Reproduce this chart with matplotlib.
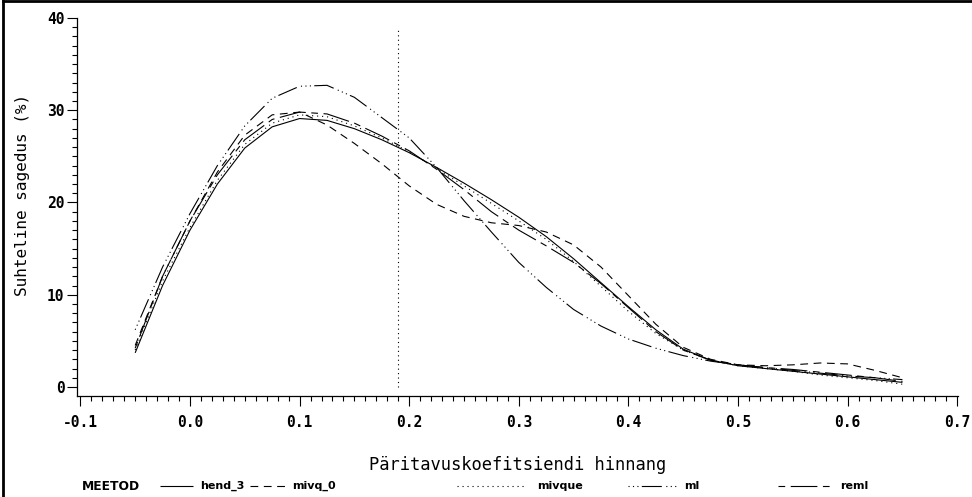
import numpy as np
import matplotlib
matplotlib.use("Agg")
import matplotlib.pyplot as plt
from matplotlib.lines import Line2D
from matplotlib.ticker import MultipleLocator

# estimates
x = [-0.05, -0.025, 0.0, 0.025, 0.05, 0.075, 0.1, 0.125, 0.15, 0.175,
     0.2, 0.225, 0.25, 0.275, 0.3, 0.325, 0.35, 0.375, 0.4, 0.425,
     0.45, 0.475, 0.5, 0.525, 0.55, 0.575, 0.6, 0.625, 0.65]

hend_3 = [3.7, 11.0, 17.0, 22.0, 25.9, 28.2, 29.1, 28.9, 28.0, 26.8,
          25.4, 23.8, 22.1, 20.3, 18.4, 16.3, 13.9, 11.3, 8.7, 6.2,
          4.1, 2.9, 2.3, 2.0, 1.7, 1.4, 1.1, 0.8, 0.5]
mivq_0 = [4.5, 12.0, 18.0, 23.3, 27.3, 29.5, 29.8, 28.4, 26.4, 24.2,
          21.8, 19.8, 18.5, 17.8, 17.5, 16.8, 15.4, 13.0, 9.9, 6.8,
          4.3, 3.0, 2.4, 2.3, 2.4, 2.6, 2.5, 1.8, 1.0]
mivque = [4.0, 11.5, 17.3, 22.4, 26.3, 28.6, 29.5, 29.3, 28.3, 27.0,
          25.5, 23.7, 21.8, 19.9, 18.0, 16.0, 13.6, 10.9, 8.2, 5.8,
          4.0, 2.9, 2.3, 2.0, 1.7, 1.3, 1.0, 0.7, 0.3]
ml = [6.2, 13.0, 18.8, 24.0, 28.3, 31.3, 32.6, 32.7, 31.4, 29.2,
      27.0, 23.8, 20.2, 16.8, 13.5, 10.8, 8.4, 6.6, 5.2, 4.2,
      3.4, 2.8, 2.4, 2.1, 1.8, 1.5, 1.2, 1.0, 0.8]
reml = [4.2, 12.0, 18.0, 23.0, 26.8, 29.0, 29.8, 29.6, 28.6, 27.2,
        25.6, 23.6, 21.4, 19.0, 17.0, 15.3, 13.5, 11.2, 8.6, 6.0,
        4.0, 2.9, 2.4, 2.1, 1.9, 1.6, 1.3, 1.0, 0.6]

labels = ["hend_3", "mivq_0", "mivque", "ml", "reml"]
ref_x = 0.19
ref_top = 38.7

x_ticks = [-0.1, 0.0, 0.1, 0.2, 0.3, 0.4, 0.5, 0.6, 0.7]
y_ticks = [0, 10, 20, 30, 40]

mono = "DejaVu Sans Mono"
lw = 0.8
styles = [
    (0, ()),
    (0, (7.0, 5.0)),
    (0, (1.0, 3.5)),
    (0, (1.0, 3.0, 1.0, 3.0, 1.0, 3.0, 18.0, 4.0)),
    (0, (6.0, 5.0, 24.0, 5.0)),
]

fig = plt.figure(figsize=(9.72, 4.97), dpi=100)
ax = fig.add_axes([0.0792, 0.2032, 0.9064, 0.7606])

for ys, ls in zip([hend_3, mivq_0, mivque, ml, reml], styles):
    ax.plot(x, ys, color="black", lw=lw, linestyle=ls)

ax.plot([ref_x, ref_x], [0, ref_top], color="black", lw=lw, linestyle=(0, (1.0, 3.0)))

ax.set_xlim(-0.1031, 0.7007)
ax.set_ylim(-0.98, 40.0)
ax.set_xticks(x_ticks)
ax.set_xticklabels([f"{t:.1f}" for t in x_ticks], fontfamily=mono, fontweight="bold", fontsize=10.5)
ax.set_yticks(y_ticks)
ax.set_yticklabels([str(t) for t in y_ticks], fontfamily=mono, fontweight="bold", fontsize=10.5)
ax.xaxis.set_minor_locator(MultipleLocator(0.01))
ax.yaxis.set_minor_locator(MultipleLocator(1))
ax.tick_params(which="major", length=7, width=0.8, direction="out", colors="black")
ax.tick_params(which="minor", length=3.5, width=0.8, direction="out")
ax.tick_params(axis="x", which="major", pad=7)
ax.tick_params(axis="y", which="major", pad=2)

for s in ["top", "right"]:
    ax.spines[s].set_visible(False)
for s in ["left", "bottom"]:
    ax.spines[s].set_linewidth(0.9)

ax.set_xlabel("Päritavuskoefitsiendi hinnang", fontfamily=mono, fontsize=12.3)
ax.set_ylabel("Suhteline sagedus (%)", fontfamily=mono, fontsize=11.5)
ax.yaxis.set_label_coords(-0.053, 0.532)
ax.xaxis.set_label_coords(0.5, -0.16)

# legend row
ly = 1 - 486 / 497
fig.text(82 / 972, ly, "MEETOD", fontfamily="DejaVu Sans", fontweight="bold", fontsize=8.8, va="center")
leg_items = [(160, 193, 200), (250, 287, 292), (457, 525, 537), (628, 677, 684), (778, 830, 840)]
for (x0, x1, xt), lab, ls in zip(leg_items, labels, styles):
    fig.add_artist(Line2D([x0 / 972, x1 / 972], [ly, ly], transform=fig.transFigure,
                          color="black", lw=lw, linestyle=ls))
    fig.text(xt / 972, ly, lab, fontfamily="DejaVu Sans", fontweight="bold", fontsize=8.0, va="center")

# page border (left and top only, the image is cut on the other sides)
for xs, ys in [([0.003, 0.003], [0, 0.997]), ([0.003, 1.0], [0.997, 0.997])]:
    fig.add_artist(Line2D(xs, ys, transform=fig.transFigure, color="black", lw=2))

fig.savefig("out.png", dpi=100)
